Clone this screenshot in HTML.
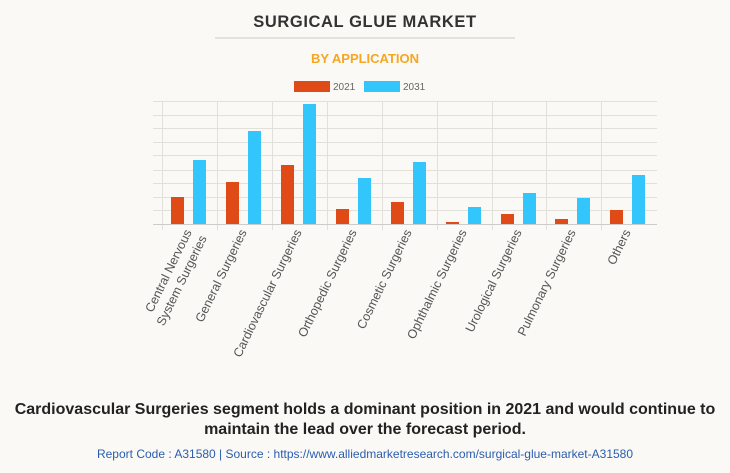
<!DOCTYPE html>
<html><head><style>
body{margin:0;background:#faf9f5;width:730px;height:473px;overflow:hidden;font-family:"Liberation Sans",Arial,sans-serif}
</style></head><body>
<svg width="730" height="473" xmlns="http://www.w3.org/2000/svg" style="position:absolute;left:0;top:0">
<rect width="730" height="473" fill="#faf9f5"/>
<text x="365" y="27" text-anchor="middle" font-size="16.5" font-weight="bold" letter-spacing="0.6" fill="#333" font-family="Liberation Sans">SURGICAL GLUE MARKET</text>
<line x1="215" y1="38" x2="515" y2="38" stroke="#ccc" stroke-width="1"/>
<text x="365" y="63" text-anchor="middle" font-size="13" font-weight="bold" fill="#f5a623" font-family="Liberation Sans">BY APPLICATION</text>
<rect x="294" y="81" width="36" height="11" fill="#e04a17"/>
<text x="333" y="90" font-size="10" fill="#666" font-family="Liberation Sans">2021</text>
<rect x="364" y="81" width="36" height="11" fill="#33c6fd"/>
<text x="403" y="90" font-size="10" fill="#666" font-family="Liberation Sans">2031</text>
<g stroke="#e2e0da" stroke-width="1">
<line x1="153" y1="101.5" x2="657" y2="101.5"/><line x1="153" y1="115.5" x2="657" y2="115.5"/>
<line x1="153" y1="128.5" x2="657" y2="128.5"/><line x1="153" y1="142.5" x2="657" y2="142.5"/>
<line x1="153" y1="155.5" x2="657" y2="155.5"/><line x1="153" y1="170.5" x2="657" y2="170.5"/>
<line x1="153" y1="183.5" x2="657" y2="183.5"/><line x1="153" y1="197.5" x2="657" y2="197.5"/>
<line x1="153" y1="210.5" x2="657" y2="210.5"/>
<line x1="162.5" y1="101" x2="162.5" y2="230"/><line x1="217.5" y1="101" x2="217.5" y2="230"/>
<line x1="272.5" y1="101" x2="272.5" y2="230"/><line x1="327.5" y1="101" x2="327.5" y2="230"/>
<line x1="382.5" y1="101" x2="382.5" y2="230"/><line x1="437.5" y1="101" x2="437.5" y2="230"/>
<line x1="492.5" y1="101" x2="492.5" y2="230"/><line x1="546.5" y1="101" x2="546.5" y2="230"/>
<line x1="601.5" y1="101" x2="601.5" y2="230"/>
</g>
<line x1="153" y1="224.5" x2="657" y2="224.5" stroke="#ccc"/>
<g fill="#e04a17">
<rect x="171" y="197" width="13" height="27"/><rect x="226" y="182" width="13" height="42"/>
<rect x="281" y="165" width="13" height="59"/><rect x="336" y="209" width="13" height="15"/>
<rect x="391" y="202" width="13" height="22"/><rect x="446" y="222" width="13" height="2"/>
<rect x="501" y="214" width="13" height="10"/><rect x="555" y="219" width="13" height="5"/>
<rect x="610" y="210" width="13" height="14"/>
</g>
<g fill="#33c6fd">
<rect x="193" y="160" width="13" height="64"/><rect x="248" y="131" width="13" height="93"/>
<rect x="303" y="104" width="13" height="120"/><rect x="358" y="178" width="13" height="46"/>
<rect x="413" y="162" width="13" height="62"/><rect x="468" y="207" width="13" height="17"/>
<rect x="523" y="193" width="13" height="31"/><rect x="577" y="198" width="13" height="26"/>
<rect x="632" y="175" width="13" height="49"/>
</g>
<g font-size="12.5" fill="#555" text-anchor="end" font-family="Liberation Sans">
<text transform="translate(192,232) rotate(-64)">Central Nervous</text>
<text transform="translate(207,238) rotate(-64)">System Surgeries</text>
<text transform="translate(247,232) rotate(-64)">General Surgeries</text>
<text transform="translate(302,232) rotate(-64)">Cardiovascular Surgeries</text>
<text transform="translate(357,232) rotate(-64)">Orthopedic Surgeries</text>
<text transform="translate(412,232) rotate(-64)">Cosmetic Surgeries</text>
<text transform="translate(467,232) rotate(-64)">Ophthalmic Surgeries</text>
<text transform="translate(522,232) rotate(-64)">Urological Surgeries</text>
<text transform="translate(576,232) rotate(-64)">Pulmonary Surgeries</text>
<text transform="translate(631,232) rotate(-64)">Others</text>
</g>
<text x="365" y="414" text-anchor="middle" font-size="16" font-weight="bold" fill="#222" font-family="Liberation Sans">Cardiovascular Surgeries segment holds a dominant position in 2021 and would continue to</text>
<text x="365" y="434" text-anchor="middle" font-size="16" font-weight="bold" fill="#222" font-family="Liberation Sans">maintain the lead over the forecast period.</text>
<text x="365" y="458" text-anchor="middle" font-size="12" fill="#2a5db0" font-family="Liberation Sans">Report Code : A31580  |  Source : https://www.alliedmarketresearch.com/surgical-glue-market-A31580</text>
</svg>
</body></html>
